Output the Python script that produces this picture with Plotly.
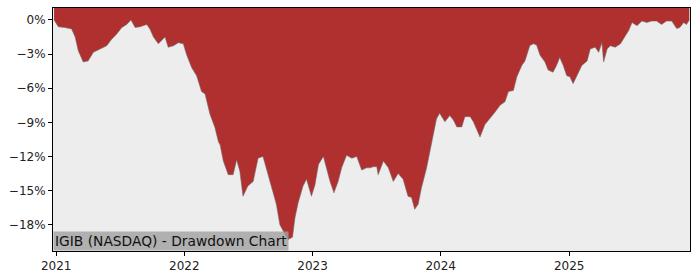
import plotly.graph_objects as go

dates = [
    "2020-12-26", "2021-01-07", "2021-01-26", "2021-02-14", "2021-02-24", "2021-03-05",
    "2021-03-19", "2021-04-02", "2021-04-17", "2021-05-06", "2021-05-25", "2021-06-08",
    "2021-06-22", "2021-07-07", "2021-07-21", "2021-08-02", "2021-08-14", "2021-08-28",
    "2021-09-16", "2021-09-25", "2021-10-05", "2021-10-19", "2021-11-07", "2021-11-16",
    "2021-12-01", "2021-12-15", "2021-12-29", "2022-01-08", "2022-01-22", "2022-02-05",
    "2022-02-19", "2022-03-01", "2022-03-15", "2022-03-29", "2022-04-08", "2022-04-13",
    "2022-04-22", "2022-05-06", "2022-05-20", "2022-05-30", "2022-06-08", "2022-06-17",
    "2022-07-01", "2022-07-16", "2022-07-30", "2022-08-13", "2022-08-27", "2022-09-11",
    "2022-09-20", "2022-09-30", "2022-10-14", "2022-10-23", "2022-11-05", "2022-11-12",
    "2022-11-21", "2022-12-05", "2022-12-15", "2022-12-29", "2023-01-08", "2023-01-18",
    "2023-02-01", "2023-02-11", "2023-02-20", "2023-03-03", "2023-03-15", "2023-03-25",
    "2023-04-08", "2023-04-23", "2023-05-07", "2023-05-21", "2023-06-04", "2023-06-14",
    "2023-06-23", "2023-07-03", "2023-07-07", "2023-07-22", "2023-08-05", "2023-08-19",
    "2023-09-02", "2023-09-16", "2023-09-30", "2023-10-10", "2023-10-19", "2023-10-29",
    "2023-11-07", "2023-11-22", "2023-12-01", "2023-12-10", "2023-12-20", "2023-12-29",
    "2024-01-13", "2024-01-27", "2024-02-06", "2024-02-16", "2024-03-01", "2024-03-10",
    "2024-03-25", "2024-04-03", "2024-04-13", "2024-04-22", "2024-05-06", "2024-05-21",
    "2024-06-04", "2024-06-18", "2024-07-02", "2024-07-12", "2024-07-26", "2024-08-05",
    "2024-08-19", "2024-08-28", "2024-09-11", "2024-09-21", "2024-09-30", "2024-10-10",
    "2024-10-24", "2024-11-02", "2024-11-16", "2024-11-26", "2024-12-05", "2024-12-15",
    "2024-12-25", "2025-01-03", "2025-01-12", "2025-01-23", "2025-02-06", "2025-02-21",
    "2025-03-02", "2025-03-16", "2025-03-26", "2025-04-04", "2025-04-09", "2025-04-19",
    "2025-04-28", "2025-05-12", "2025-05-27", "2025-06-10", "2025-06-19", "2025-06-29",
    "2025-07-13", "2025-07-27", "2025-08-10", "2025-08-24", "2025-09-07", "2025-09-21",
    "2025-10-05", "2025-10-20", "2025-11-03", "2025-11-12", "2025-11-23", "2025-12-01",
    "2025-12-09",
]

drawdown = [
    0.0, -0.6, -0.67, -0.8, -1.5, -2.7,
    -3.7, -3.6, -2.85, -2.55, -2.27, -1.7,
    -1.25, -0.67, -0.4, 0.0, -0.67, -0.6,
    -0.4, -0.8, -1.5, -2.1, -1.5, -2.4,
    -2.27, -2.0, -2.1, -3.1, -4.2, -4.9,
    -6.3, -6.5, -8.3, -9.45, -10.7, -11.0,
    -12.4, -13.6, -13.6, -12.3, -13.3, -15.5,
    -14.6, -14.2, -12.15, -12.0, -13.6, -15.1,
    -16.2, -18.0, -18.8, -19.3, -19.1, -17.4,
    -16.1, -14.6, -14.0, -15.5, -14.5, -12.7,
    -12.0, -13.3, -14.2, -15.2, -14.2, -13.0,
    -11.9, -12.15, -12.0, -13.2, -13.0, -13.0,
    -12.9, -12.9, -13.6, -12.4, -13.0, -14.2,
    -13.5, -14.0, -15.5, -15.6, -16.65, -16.2,
    -14.8, -13.0, -11.6, -10.4, -8.7, -8.2,
    -8.95, -8.4, -8.8, -9.4, -9.4, -8.5,
    -8.5, -8.95, -9.7, -10.3, -9.2, -8.65,
    -8.1, -7.5, -7.2, -6.3, -6.2, -5.0,
    -4.0, -3.6, -2.25, -2.1, -2.2, -3.1,
    -3.7, -4.4, -4.6, -4.0, -3.3, -4.0,
    -4.9, -5.0, -5.6, -4.9, -4.0, -3.6,
    -2.55, -2.4, -2.85, -2.0, -3.7, -2.55,
    -2.27, -2.4, -2.1, -1.4, -0.96, -0.23,
    -0.5, -0.1, -0.23, -0.1, -0.1, -0.4,
    -0.1, -0.1, -0.75, -0.67, -0.23, -0.4,
    0.0,
]

y_ticks = [0, -3, -6, -9, -12, -15, -18]
y_tick_labels = ["0%", "\u22123%", "\u22126%", "\u22129%", "\u221212%", "\u221215%", "\u221218%"]
x_ticks = ["2021-01-01", "2022-01-01", "2023-01-01", "2024-01-01", "2025-01-01"]
x_tick_labels = ["2021", "2022", "2023", "2024", "2025"]

y_top = 1.05
y_bottom = -20.31

fig = go.Figure()
fig.add_trace(go.Scatter(
    x=dates, y=[y_top] * len(dates), mode="lines",
    line=dict(width=0, color="rgba(0,0,0,0)"), hoverinfo="skip", showlegend=False,
))
fig.add_trace(go.Scatter(
    x=dates, y=drawdown, mode="lines", fill="tonexty",
    fillcolor="#B03030", line=dict(width=0.7, color="rgba(110,110,110,0.8)"),
    showlegend=False,
))

fig.update_layout(
    width=700, height=280,
    margin=dict(l=53, r=10, t=7, b=28),
    paper_bgcolor="white",
    plot_bgcolor="#EDEDED",
    font=dict(family="DejaVu Sans", size=12, color="#222"),
    showlegend=False,
    xaxis=dict(
        range=["2020-12-23", "2025-12-11"],
        tickvals=x_ticks, ticktext=x_tick_labels,
        ticks="outside", ticklen=4, tickcolor="black", tickwidth=1,
        showgrid=False, zeroline=False,
        showline=True, linecolor="black", linewidth=1, mirror=True,
        tickfont=dict(size=12, color="#222"),
    ),
    yaxis=dict(
        range=[y_bottom, y_top],
        tickvals=y_ticks, ticktext=y_tick_labels,
        ticks="outside", ticklen=4, tickcolor="black", tickwidth=1,
        showgrid=False, zeroline=False,
        showline=True, linecolor="black", linewidth=1, mirror=True,
        tickfont=dict(size=12, color="#222"),
    ),
    annotations=[dict(
        text="IGIB (NASDAQ) - Drawdown Chart",
        xref="paper", yref="paper", x=0, y=0,
        xanchor="left", yanchor="bottom",
        showarrow=False,
        font=dict(family="DejaVu Sans", size=13.8, color="#111"),
        bgcolor="rgba(160,160,160,0.8)",
        borderpad=1,
    )],
)

fig.write_html("out.html")
